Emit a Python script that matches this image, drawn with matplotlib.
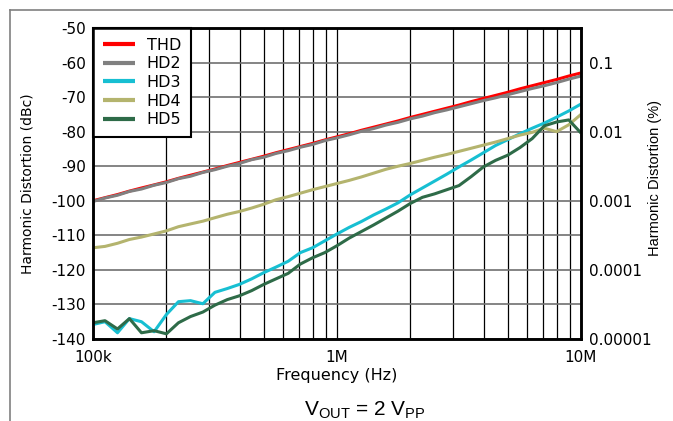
import matplotlib
matplotlib.use("Agg")
import matplotlib.pyplot as plt
from matplotlib.lines import Line2D
from matplotlib.ticker import FixedLocator, NullFormatter, NullLocator

plt.rcParams['font.family'] = ['DejaVu Sans']
plt.rcParams['axes.unicode_minus'] = False
plt.rcParams['mathtext.fontset'] = 'custom'
plt.rcParams['mathtext.rm'] = 'Liberation Sans'
plt.rcParams['mathtext.default'] = 'regular'

# Frequency points (Hz), 20 per decade
freq_k = [100, 112, 126, 141, 158, 178, 200, 224, 251, 282,
          316, 355, 398, 447, 501, 562, 631, 708, 794, 891,
          1000, 1122, 1259, 1413, 1585, 1778, 1995, 2239, 2512, 2818,
          3162, 3548, 3981, 4467, 5012, 5623, 6310, 7079, 7943, 8913, 10000]
freq = [f * 1e3 for f in freq_k]

thd = [-100.0, -99.1, -98.2, -97.2, -96.3, -95.4, -94.5, -93.5, -92.6, -91.7,
       -90.8, -89.8, -88.9, -88.0, -87.1, -86.1, -85.2, -84.3, -83.4, -82.4,
       -81.5, -80.6, -79.6, -78.7, -77.8, -76.9, -75.9, -75.0, -74.1, -73.2,
       -72.3, -71.3, -70.4, -69.5, -68.6, -67.6, -66.7, -65.8, -64.9, -63.9, -63.0]
hd2 = [-100.2, -99.2, -98.4, -97.3, -96.6, -95.5, -94.7, -93.6, -92.9, -91.8,
       -91.0, -90.0, -89.2, -88.1, -87.4, -86.3, -85.5, -84.5, -83.7, -82.6,
       -81.8, -80.9, -79.9, -79.1, -78.1, -77.3, -76.3, -75.5, -74.5, -73.7,
       -72.8, -71.9, -71.0, -70.2, -69.3, -68.4, -67.5, -66.7, -65.8, -64.8, -63.9]
hd3 = [-135.8, -135.0, -138.2, -134.1, -135.0, -137.9, -132.9, -129.2, -128.9, -129.8,
       -126.5, -125.4, -124.2, -122.6, -120.8, -119.2, -117.5, -115.0, -113.6, -111.6,
       -109.6, -107.7, -106.0, -104.1, -102.4, -100.6, -98.3, -96.3, -94.3, -92.3,
       -90.2, -88.2, -86.1, -84.0, -82.3, -80.6, -79.0, -77.5, -75.8, -74.0, -72.0]
hd4 = [-113.6, -113.2, -112.3, -111.2, -110.5, -109.6, -108.7, -107.5, -106.7, -105.9,
       -104.9, -103.9, -103.1, -102.1, -101.0, -99.7, -98.8, -97.8, -96.8, -95.9,
       -95.0, -94.1, -93.1, -92.0, -90.9, -90.0, -89.2, -88.3, -87.4, -86.6,
       -85.7, -84.8, -83.9, -83.0, -82.0, -81.0, -80.2, -79.0, -80.0, -78.0, -75.0]
hd5 = [-135.3, -134.7, -137.1, -134.1, -138.2, -137.6, -138.5, -135.3, -133.5, -132.2,
       -130.2, -128.6, -127.5, -126.0, -124.2, -122.6, -121.0, -118.3, -116.5, -115.0,
       -113.0, -110.8, -108.9, -107.0, -105.0, -103.0, -100.8, -99.0, -98.0, -96.8,
       -95.6, -93.0, -90.2, -88.3, -86.8, -84.6, -82.0, -78.3, -77.2, -76.6, -80.4]

series = [('THD', thd, '#ff0000'),
          ('HD2', hd2, '#808080'),
          ('HD3', hd3, '#17bfd2'),
          ('HD4', hd4, '#b4b46e'),
          ('HD5', hd5, '#2e6b48')]

y_ticks = [-50, -60, -70, -80, -90, -100, -110, -120, -130, -140]
x_ticks = [1e5, 1e6, 1e7]
x_labels = ['100k', '1M', '10M']
pct_ticks = [1e-5, 1e-4, 1e-3, 1e-2, 1e-1]
pct_labels = ['0.00001', '0.0001', '0.001', '0.01', '0.1']

fig = plt.figure(figsize=(6.73, 4.21), dpi=100)
ax = fig.add_axes([93 / 673, 82 / 421, 488 / 673, 311 / 421])

for name, vals, col in series:
    ax.plot(freq, vals, color=col, lw=2.2, label=name, solid_capstyle='butt')

ax.set_xscale('log')
ax.set_xlim(1e5, 1e7)
ax.set_ylim(-140, -50)
ax.set_yticks(y_ticks)
ax.set_xticks(x_ticks)
ax.set_xticklabels(x_labels)
minor = [m * d for d in (1e5, 1e6) for m in range(2, 10)]
ax.xaxis.set_minor_locator(FixedLocator(minor))
ax.xaxis.set_minor_formatter(NullFormatter())
ax.grid(True, axis='x', which='both', color='black', lw=0.9)
ax.grid(True, axis='y', which='major', color='#707070', lw=1.2)
ax.set_axisbelow(True)
ax.tick_params(axis='both', which='both', length=0, labelsize=11)
ax.tick_params(axis='x', pad=8)
ax.tick_params(axis='y', pad=5)
for s in ax.spines.values():
    s.set_linewidth(1.8)

ax.set_xlabel('Frequency (Hz)', fontsize=11.5, labelpad=2)
ax.set_ylabel('Harmonic Distortion (dBc)', fontsize=10)
ax.yaxis.set_label_coords(-0.119, 0.5)

ax2 = ax.twinx()
ax2.set_yscale('log')
ax2.set_ylim(1e-5, 10 ** -0.5)
ax2.yaxis.set_major_locator(FixedLocator(pct_ticks))
ax2.set_yticklabels(pct_labels)
ax2.yaxis.set_minor_locator(NullLocator())
ax2.tick_params(axis='y', which='both', length=0, labelsize=11, pad=6)
ax2.set_ylabel('Harmonic Distortion (%)', fontsize=10.5, family='Liberation Sans')
ax2.yaxis.set_label_coords(1.137, 0.518)
for s in ax2.spines.values():
    s.set_linewidth(1.8)

leg = ax.legend(loc='upper left', borderaxespad=0, fancybox=False,
                edgecolor='black', framealpha=1, fontsize=11.5,
                handlelength=2.0, handletextpad=0.75, labelspacing=0.23,
                borderpad=0.6)
leg.get_frame().set_linewidth(1.5)
for h in leg.get_lines():
    h.set_linewidth(3)

fig.text(365 / 673, 1 - 410 / 421, r'V$_{OUT}$ = 2 V$_{PP}$', fontsize=15,
         ha='center', va='center', family='Liberation Sans')

# outer frame lines
fig.add_artist(Line2D([10 / 673, 1], [1 - 10 / 421, 1 - 10 / 421],
                      color='#808080', lw=1.2, transform=fig.transFigure))
fig.add_artist(Line2D([10 / 673, 10 / 673], [0, 1 - 10 / 421],
                      color='#808080', lw=1.2, transform=fig.transFigure))

fig.savefig('out.png', dpi=100)
